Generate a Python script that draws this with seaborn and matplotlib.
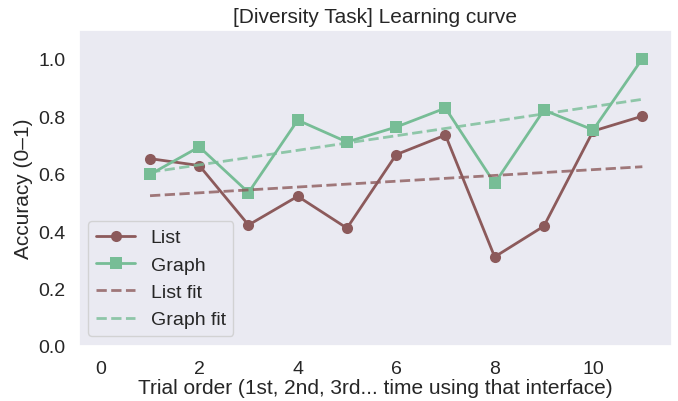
import numpy as np
import pandas as pd
import matplotlib
matplotlib.use("Agg")
import matplotlib.pyplot as plt
import seaborn as sns

trials = [1, 2, 3, 4, 5, 6, 7, 8, 9, 10, 11]
list_acc = [0.652, 0.628, 0.421, 0.521, 0.410, 0.666, 0.734, 0.310, 0.417, 0.748, 0.800]
graph_acc = [0.597, 0.693, 0.534, 0.786, 0.710, 0.762, 0.828, 0.566, 0.821, 0.752, 1.000]

sns.set_theme(style="dark")
plt.rcParams['font.family'] = ['Liberation Sans', 'DejaVu Sans']

list_color = "#8c5a5b"
graph_color = "#77bd96"

fig, ax = plt.subplots(figsize=(6.78, 4.02), dpi=100)
fig.subplots_adjust(left=0.116, right=0.991, top=0.923, bottom=0.137)

df = pd.DataFrame({"trial": trials, "List": list_acc, "Graph": graph_acc})
sns.lineplot(data=df, x="trial", y="List", ax=ax, color=list_color, marker="o",
             markersize=8, linewidth=2, markeredgewidth=0, label="List")
sns.lineplot(data=df, x="trial", y="Graph", ax=ax, color=graph_color, marker="s",
             markersize=8, linewidth=2, markeredgewidth=0, label="Graph")

x = np.array(trials, dtype=float)
lf = np.polyval(np.polyfit(x, list_acc, 1), x)
gf = np.polyval(np.polyfit(x, graph_acc, 1), x)
ax.plot(x, lf, linestyle="--", color=list_color, alpha=0.8, linewidth=2, label="List fit")
ax.plot(x, gf, linestyle="--", color=graph_color, alpha=0.8, linewidth=2, label="Graph fit")

ax.set_xlim(-0.45, 11.6)
ax.set_ylim(0, 1.1)
ax.set_xticks([0, 2, 4, 6, 8, 10])
ax.set_yticks([0.0, 0.2, 0.4, 0.6, 0.8, 1.0])
ax.tick_params(labelsize=14)
ax.tick_params(axis="x", pad=4)
ax.set_title("[Diversity Task] Learning curve", fontsize=15)
ax.set_xlabel("Trial order (1st, 2nd, 3rd... time using that interface)", fontsize=15, labelpad=1)
ax.set_ylabel("Accuracy (0\u20131)", fontsize=15)
ax.legend(loc="lower left", fontsize=14)

fig.savefig("out.png", dpi=100)
